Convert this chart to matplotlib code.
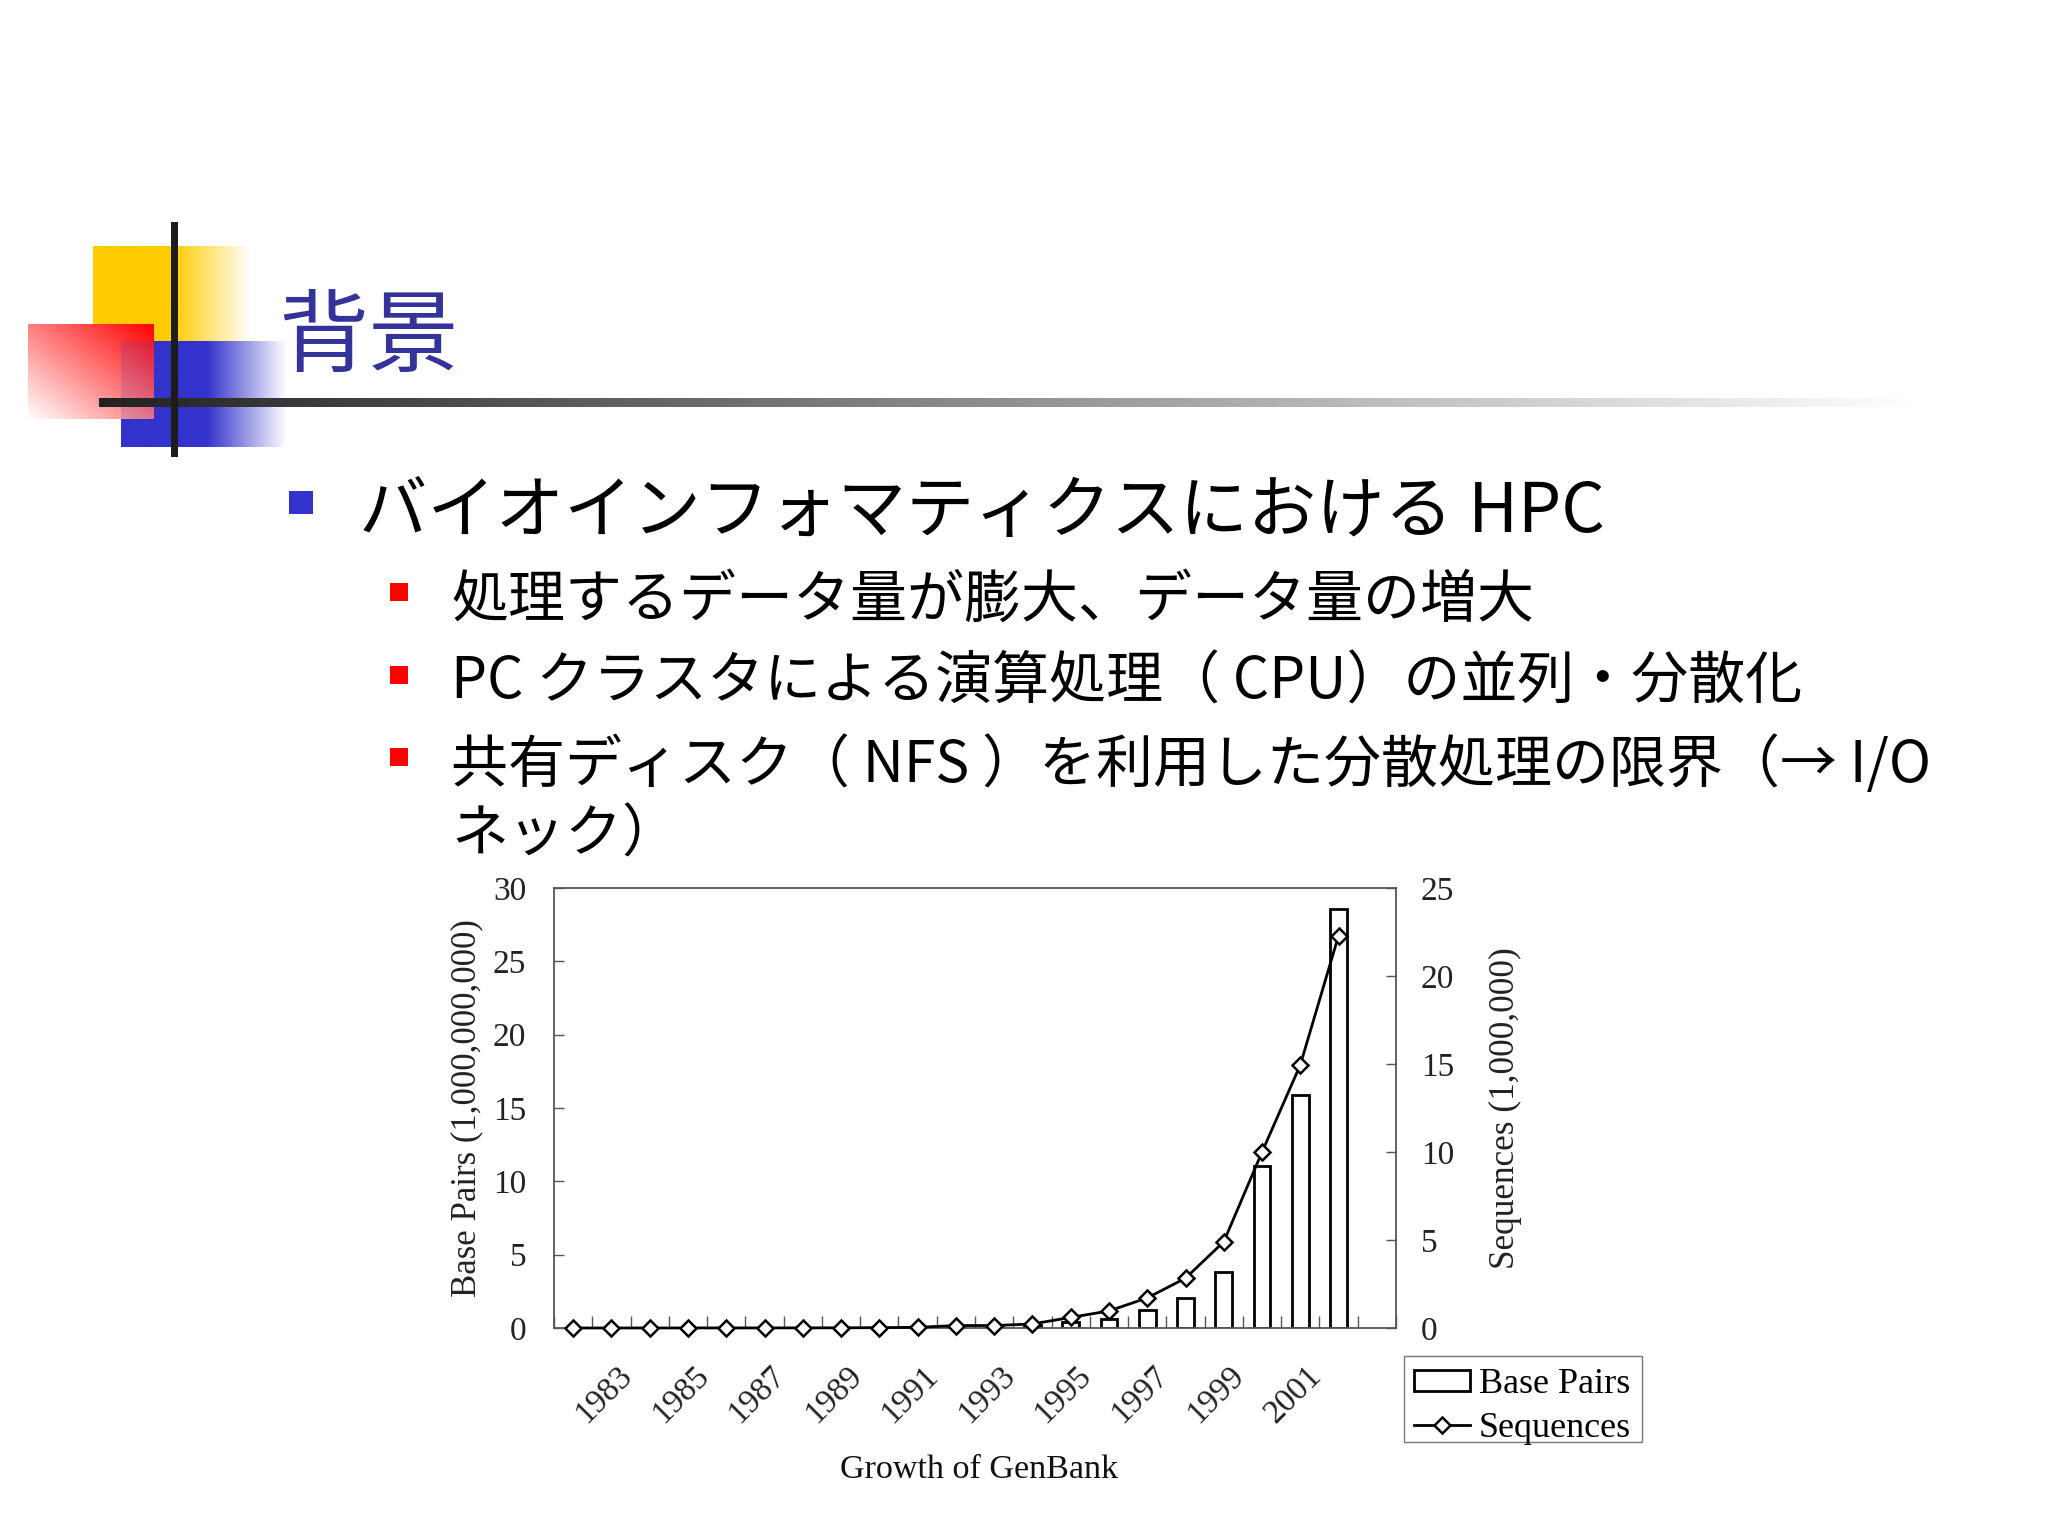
import numpy as np
import matplotlib
matplotlib.use("Agg")
import matplotlib.pyplot as plt
from matplotlib.transforms import ScaledTranslation
from matplotlib.patches import Rectangle, Patch
from matplotlib.lines import Line2D

years = [1982, 1983, 1984, 1985, 1986, 1987, 1988, 1989, 1990, 1991, 1992,
         1993, 1994, 1995, 1996, 1997, 1998, 1999, 2000, 2001, 2002]
base_pairs = [0.001, 0.002, 0.003, 0.005, 0.007, 0.010, 0.015, 0.020, 0.030, 0.05, 0.09,
              0.13, 0.22, 0.44, 0.61, 1.20, 2.06, 3.81, 11.04, 15.9, 28.55]
sequences = [0.001, 0.001, 0.002, 0.003, 0.004, 0.005, 0.007, 0.010, 0.02, 0.04, 0.14,
             0.14, 0.23, 0.60, 0.97, 1.71, 2.83, 4.90, 10.0, 14.95, 22.3]
left_ticks = [0, 5, 10, 15, 20, 25, 30]
right_ticks = [0, 5, 10, 15, 20, 25]
title_text = "背景"
level1_text = "バイオインフォマティクスにおける HPC"
level2_lines = ["処理するデータ量が膨大、データ量の増大",
                "PC クラスタによる演算処理（ CPU）の並列・分散化",
                "共有ディスク（ NFS ）を利用した分散処理の限界（→ I/O",
                "ネック）"]

W, H = 2048, 1536
JP = ['Noto Sans CJK JP', 'DejaVu Sans']
SERIF = 'Liberation Serif'
fig = plt.figure(figsize=(W / 100, H / 100), dpi=100, facecolor='white')

# slide layer in pixel coordinates
bg = fig.add_axes([0, 0, 1, 1], zorder=0)
bg.axis('off')


def hgrad(rgb, x0, x1, y0, y1, solid):
    n = 256
    a = np.clip((1 - np.linspace(0, 1, n)) / (1 - solid), 0, 1)
    img = np.zeros((1, n, 4))
    img[..., :3] = rgb
    img[..., 3] = a
    bg.imshow(img, extent=(x0, x1, y1, y0), aspect='auto', interpolation='bilinear', zorder=1)


hgrad((1, 0.8, 0), 93, 252, 246, 341, 0.5)
hgrad((0.2, 0.2, 0.8), 121, 287, 341, 447, 0.52)
# red: diagonal blend from white (bottom left) to red (top right)
gx, gy = np.meshgrid(np.linspace(0, 1, 200), np.linspace(0, 1, 200))
mix = np.clip((gx + (1 - gy)) / 2, 0, 1)
red = np.ones((200, 200, 3))
red[..., 1] = 1 - mix
red[..., 2] = 1 - mix
bg.imshow(red, extent=(28, 154, 419, 324), aspect='auto', interpolation='bilinear', zorder=2)
bg.add_patch(Rectangle((121, 341), 33, 78, fc='#3333CC', ec='none', alpha=0.15, zorder=2.5))
# rule with fade
fade = 0.13 + (1 - 0.13) * np.linspace(0, 1, 512)
rule = np.stack([fade, fade, fade], axis=-1)[np.newaxis, :, :]
bg.imshow(rule, extent=(99, 1915, 407, 398), aspect='auto', interpolation='bilinear', zorder=3)
bg.add_patch(Rectangle((170.5, 222), 7, 235, fc='#1c1c1c', ec='none', zorder=4))
bg.set_xlim(0, W)
bg.set_ylim(H, 0)

bg.text(278, 340, title_text, family=JP, fontsize=65, color='#333399', va='center', ha='left', zorder=5)
bg.add_patch(Rectangle((288.5, 491), 24, 23, fc='#3333CC', ec='none'))
bg.text(359, 513, level1_text, family=JP, fontsize=49.2, color='black', va='center', ha='left')
level2_y = [600, 682, 766, 835]
for s, y in zip(level2_lines, level2_y):
    bg.text(451, y, s, family=JP, fontsize=41, color='black', va='center', ha='left')
for y in [592, 675, 757]:
    bg.add_patch(Rectangle((390, y - 9), 18, 18, fc='#FF0000', ec='none'))
# legend frame
bg.add_patch(Rectangle((1404, 1356), 238, 86, fc='white', ec='#777777', lw=1, zorder=1))

# chart
L, R, T, B = 554, 1396, 888, 1328
ax = fig.add_axes([L / W, 1 - B / H, (R - L) / W, (B - T) / H], zorder=2)
ax.patch.set_alpha(0)
x = np.arange(len(years))
bars = ax.bar(x, base_pairs, width=0.44, facecolor='white', edgecolor='black', linewidth=2, label='Base Pairs')
ax.set_xlim(-0.5, len(years) + 0.5)
ax.set_ylim(0, 30)
ax.set_yticks(left_ticks)
ax.set_yticklabels([str(v) for v in left_ticks], family=SERIF, fontsize=24, color='#222222')
ax.tick_params(axis='y', direction='in', length=7.5, width=1, color='#555555', pad=20)
ax.set_xticks(np.arange(-0.5, len(years) + 1.5))
ax.set_xticklabels([])
ax.tick_params(axis='x', which='major', direction='in', length=8.5, width=1, color='#555555')
label_idx = [i for i, y in enumerate(years) if y % 2 == 1]
ax.set_xticks(label_idx, minor=True)
ax.set_xticklabels([str(years[i]) for i in label_idx], minor=True, family=SERIF, fontsize=24,
                   rotation=45, ha='center', va='top', color='#222222')
ax.tick_params(axis='x', which='minor', length=0, pad=23)
shift = ScaledTranslation(-7.5 / 100, 0, fig.dpi_scale_trans)
for lab in ax.get_xticklabels(minor=True):
    lab.set_transform(lab.get_transform() + shift)
for s in ax.spines.values():
    s.set_color('#555555')
    s.set_linewidth(1.3)
ax.set_xlabel('Growth of GenBank', family=SERIF, fontsize=24.6, color='#111111')
ax.xaxis.set_label_coords(0.505, -0.323)
ax.xaxis.label.set_verticalalignment('center')
ax.set_ylabel('Base Pairs (1,000,000,000)', family=SERIF, fontsize=25, color='#222222')
ax.yaxis.set_label_coords(-0.104, 0.5)
ax.yaxis.label.set_verticalalignment('center')

ax2 = ax.twinx()
ax2.set_zorder(3)
ax2.patch.set_alpha(0)
line, = ax2.plot(x, sequences, color='black', linewidth=2, marker='D', markersize=8.5,
                 markerfacecolor='white', markeredgecolor='black', markeredgewidth=1.8,
                 label='Sequences', clip_on=False)
ax2.set_ylim(0, 25)
ax2.set_yticks(right_ticks)
ax2.set_yticklabels([str(v) for v in right_ticks], family=SERIF, fontsize=24, color='#222222')
ax2.tick_params(axis='y', direction='in', length=7.5, width=1, color='#555555', pad=18)
for s in ax2.spines.values():
    s.set_visible(False)
ax2.set_ylabel('Sequences (1,000,000)', family=SERIF, fontsize=25.4, color='#222222')
ax2.yaxis.set_label_coords(1.13, 0.5)
ax2.yaxis.label.set_verticalalignment('center')

handles = [Patch(facecolor='white', edgecolor='black', linewidth=2),
           Line2D([0], [0], color='black', linewidth=2, marker='D', markersize=8.5,
                  markerfacecolor='white', markeredgecolor='black', markeredgewidth=1.8)]
leg = ax2.legend(handles, ['Base Pairs', 'Sequences'], loc='upper left',
                 bbox_to_anchor=(1406.5 / W, 1 - 1361 / H), bbox_transform=fig.transFigure,
                 borderaxespad=0, frameon=False,
                 prop={'family': SERIF, 'size': 26}, handlelength=1.55, handleheight=0.55,
                 handletextpad=0.25, labelspacing=0.29, borderpad=0.2)

fig.savefig('out.png', dpi=100, facecolor='white')
